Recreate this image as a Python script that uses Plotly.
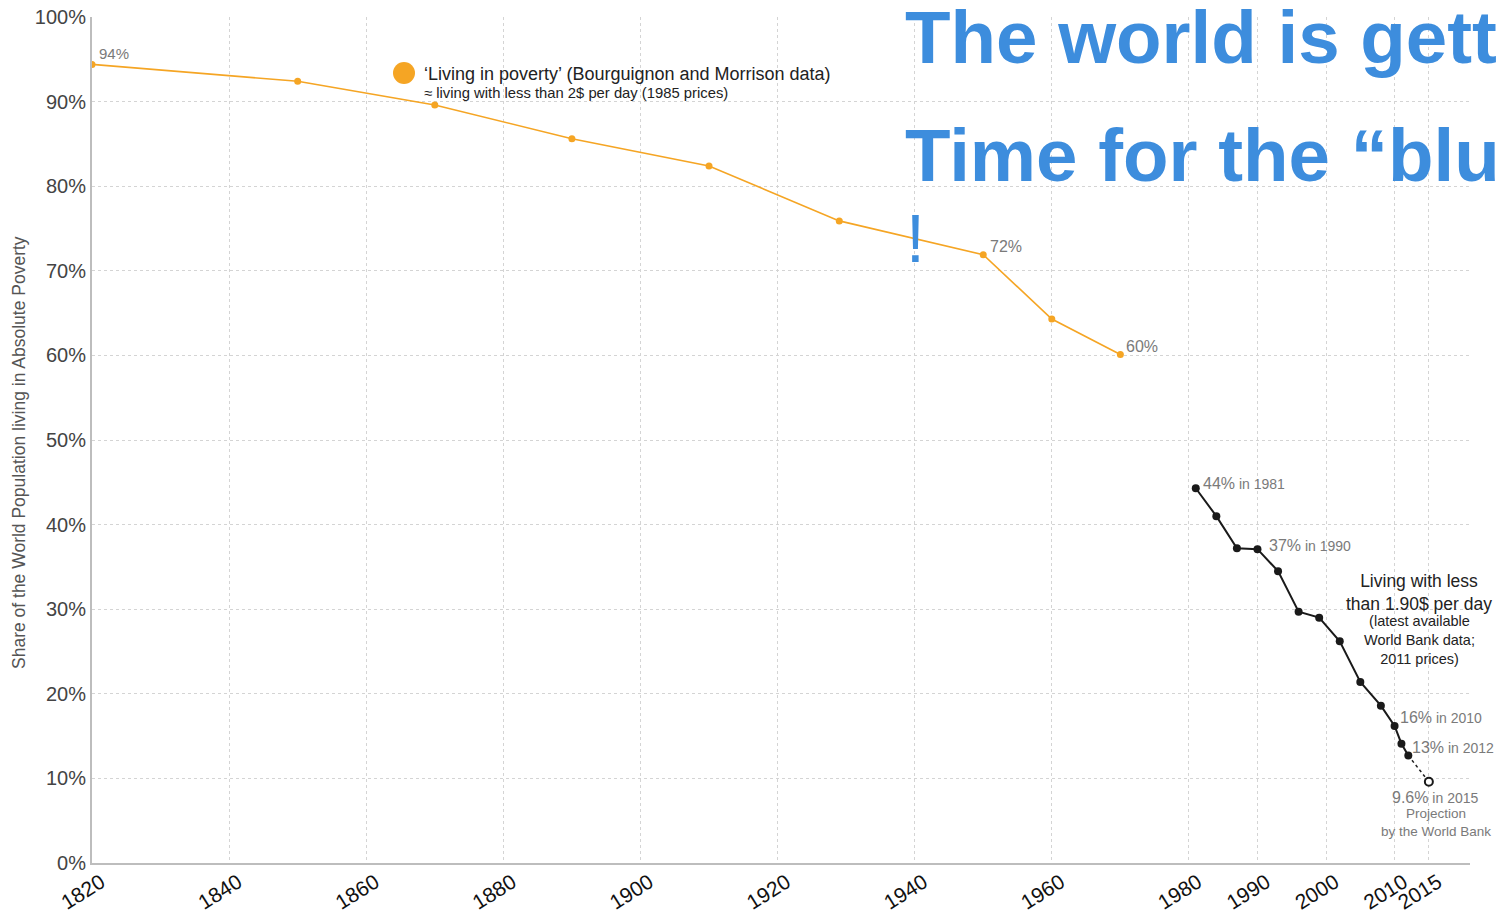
import plotly.graph_objects as go

# ---------------- data ----------------
bm_years = [1820, 1850, 1870, 1890, 1910, 1929, 1950, 1960, 1970]
bm_values = [94.4, 92.4, 89.6, 85.6, 82.4, 75.9, 71.9, 64.3, 60.1]

wb_years = [1981, 1984, 1987, 1990, 1993, 1996, 1999, 2002, 2005, 2008, 2010, 2011, 2012]
wb_values = [44.3, 41.0, 37.2, 37.1, 34.5, 29.7, 29.0, 26.2, 21.4, 18.6, 16.2, 14.1, 12.7]

proj_years = [2012, 2015]
proj_values = [12.7, 9.6]

x_ticks = [1820, 1840, 1860, 1880, 1900, 1920, 1940, 1960, 1980, 1990, 2000, 2010, 2015]
y_ticks = [0, 10, 20, 30, 40, 50, 60, 70, 80, 90, 100]

ORANGE = "#f5a524"
BLUE = "#3d8ddd"
GREY = "#7a7a7a"
FONT = "Arial, 'Liberation Sans', sans-serif"

fig = go.Figure()

fig.add_trace(go.Scatter(
    x=bm_years, y=bm_values, mode="lines+markers",
    line=dict(color=ORANGE, width=1.6),
    marker=dict(color=ORANGE, size=7),
    showlegend=False, hoverinfo="x+y"))

fig.add_trace(go.Scatter(
    x=proj_years, y=proj_values, mode="lines",
    line=dict(color="#222", width=1.5, dash="dot"),
    showlegend=False, hoverinfo="skip"))

fig.add_trace(go.Scatter(
    x=wb_years, y=wb_values, mode="lines+markers",
    line=dict(color="#1a1a1a", width=2),
    marker=dict(color="#1a1a1a", size=8),
    showlegend=False, hoverinfo="x+y"))

fig.add_trace(go.Scatter(
    x=proj_years[-1:], y=proj_values[-1:], mode="markers",
    marker=dict(color="white", size=8, line=dict(color="#1a1a1a", width=2)),
    showlegend=False, hoverinfo="x+y"))

ann = []

def lab(x, y, text, size=16, xs=8, ys=0, xa="left", ya="bottom", color=GREY, align="left"):
    ann.append(dict(x=x, y=y, xref="x", yref="y",
                    text=text, showarrow=False, xanchor=xa, yanchor=ya,
                    xshift=xs, yshift=ys, align=align,
                    font=dict(size=size, color=color, family=FONT)))

def small(t):
    return "<span style='font-size:14px'>" + t + "</span>"

# orange point labels
lab(bm_years[0], bm_values[0], "94%", size=15, xs=5, ys=0)
lab(bm_years[6], bm_values[6], "72%", size=16, xs=5, ys=-2)
lab(bm_years[8], bm_values[8], "60%", size=16, xs=4, ys=-2)

# black point labels
lab(wb_years[0], wb_values[0], "44%" + small(" in 1981"), xs=5, ys=-6)
lab(wb_years[3], wb_values[3], "37%" + small(" in 1990"), xs=10, ys=-7)
lab(wb_years[10], wb_values[10], "16%" + small(" in 2010"), xs=3, ys=-2)
lab(wb_years[12], wb_values[12], "13%" + small(" in 2012"), xs=2, ys=-2)
lab(proj_years[1], proj_values[1], "9.6%" + small(" in 2015"), xa="center", ya="top", xs=7, ys=-5)
lab(proj_years[1], proj_values[1], "Projection<br>by the World Bank", size=13.5, xa="center", ya="top",
    xs=7, ys=-22, align="center")

# explanatory block
def px2paper(px, py):
    return (px - 92) / 1378.0, (863 - py) / 846.0

bx, by = px2paper(1419, 592)
ann.append(dict(x=bx, y=by, xref="paper", yref="paper", showarrow=False, align="center",
                xanchor="center", yanchor="middle",
                text="Living with less<br>than 1.90$ per day",
                font=dict(size=17.5, color="#222", family=FONT)))
bx, by = px2paper(1419, 640)
ann.append(dict(x=bx, y=by, xref="paper", yref="paper", showarrow=False, align="center",
                xanchor="center", yanchor="middle",
                text="(latest available<br>World Bank data;<br>2011 prices)",
                font=dict(size=14.5, color="#222", family=FONT)))

# legend-like text
lx, ly = px2paper(422, 74)
ann.append(dict(x=lx, y=ly, xref="paper", yref="paper", showarrow=False,
                xanchor="left", yanchor="middle",
                text="‘Living in poverty’ (Bourguignon and Morrison data)",
                font=dict(size=18, color="#222", family=FONT)))
lx, ly = px2paper(422, 93)
ann.append(dict(x=lx, y=ly, xref="paper", yref="paper", showarrow=False,
                xanchor="left", yanchor="middle",
                text="≈ living with less than 2$ per day (1985 prices)",
                font=dict(size=14.8, color="#222", family=FONT)))

# big blue title (overflowing the page on the right)
tx, ty = px2paper(903, 37)
ann.append(dict(x=tx, y=ty, xref="paper", yref="paper", showarrow=False,
                xanchor="left", yanchor="middle", text="<b>The world is gett</b>",
                font=dict(size=74.5, color=BLUE, family=FONT)))
tx, ty = px2paper(903, 155)
ann.append(dict(x=tx, y=ty, xref="paper", yref="paper", showarrow=False,
                xanchor="left", yanchor="middle", text="<b>Time for the “blu</b>",
                font=dict(size=74.5, color=BLUE, family=FONT)))
tx, ty = px2paper(904, 238)
ann.append(dict(x=tx, y=ty, xref="paper", yref="paper", showarrow=False,
                xanchor="left", yanchor="middle", text="!",
                font=dict(size=68, color=BLUE, family=FONT)))

# y-axis title
tx, ty = px2paper(19, 453)
ann.append(dict(x=tx, y=ty, xref="paper", yref="paper", showarrow=False,
                xanchor="center", yanchor="middle", textangle=-90,
                text="Share of the World Population living in Absolute Poverty",
                font=dict(size=17.5, color="#555", family=FONT)))

cx, cy = px2paper(404, 73)
shapes = [dict(type="circle", xref="paper", yref="paper", xsizemode="pixel", ysizemode="pixel",
               xanchor=cx, yanchor=cy, x0=-11, x1=11, y0=-11, y1=11,
               fillcolor=ORANGE, line=dict(width=0))]

fig.update_layout(
    width=1499, height=917,
    margin=dict(l=92, r=29, t=17, b=54, autoexpand=False),
    plot_bgcolor="white", paper_bgcolor="white",
    annotations=ann, shapes=shapes,
    font=dict(family=FONT),
    xaxis=dict(range=[1820, 2021], tickvals=x_ticks, ticktext=[str(t) for t in x_ticks],
               tickangle=-32, tickfont=dict(size=21, color="#111", family=FONT),
               ticklabelshift=9, ticklabelstandoff=-3,
               showgrid=True, gridcolor="#d4d4d4", griddash="3px,3px", gridwidth=1,
               showline=True, linecolor="#bdbdbd", linewidth=2, zeroline=False,
               ticks="", fixedrange=True),
    yaxis=dict(range=[0, 100], tickvals=y_ticks, ticktext=[f"{v}%" for v in y_ticks],
               tickfont=dict(size=20, color="#444", family=FONT),
               showgrid=True, gridcolor="#d4d4d4", griddash="3px,3px", gridwidth=1,
               showline=True, linecolor="#bdbdbd", linewidth=2, zeroline=False,
               ticks="", fixedrange=True),
)

fig.write_html("out.html", config={"displayModeBar": False},
               post_script="document.body.style.margin='0';document.body.style.overflow='hidden';")
